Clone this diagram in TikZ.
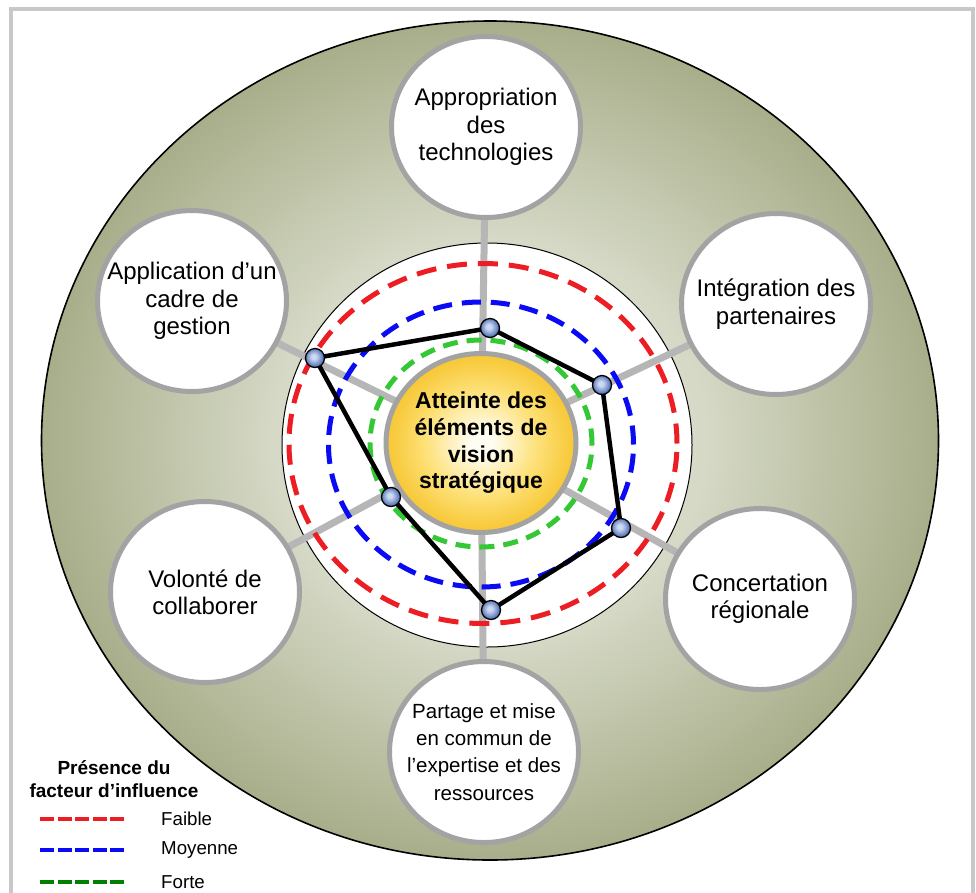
\documentclass[tikz,border=0pt]{standalone}
\usepackage{fontspec}
\setmainfont{Liberation Sans}
\usetikzlibrary{shapes.geometric}

\pgfdeclarelayer{back}
\pgfdeclarelayer{spokes}
\pgfsetlayers{back,spokes,main}

\definecolor{frameGray}{RGB}{200,200,200}
\definecolor{ringGray}{RGB}{163,163,163}
\definecolor{spokeGray}{RGB}{182,182,182}
\definecolor{oliveIn}{RGB}{226,229,214}
\definecolor{oliveMid}{RGB}{213,217,198}
\definecolor{oliveOut}{RGB}{168,174,138}
\definecolor{goldIn}{RGB}{255,253,242}
\definecolor{goldMid}{RGB}{253,224,118}
\definecolor{goldOut}{RGB}{247,198,50}
\definecolor{lowRed}{RGB}{236,30,36}
\definecolor{midBlue}{RGB}{10,10,245}
\definecolor{highGreen}{RGB}{52,200,52}
\definecolor{legGreen}{RGB}{0,128,0}
\definecolor{ballLight}{RGB}{205,218,242}
\definecolor{ballDark}{RGB}{78,110,180}

\pgfdeclareradialshading{olivedisc}{\pgfpoint{0bp}{0bp}}{%
  color(0bp)=(oliveIn); color(12bp)=(oliveMid); color(25bp)=(oliveOut); color(50bp)=(oliveOut)}
\pgfdeclareradialshading{golddisc}{\pgfpoint{0bp}{0bp}}{%
  color(0bp)=(goldIn); color(3bp)=(goldIn); color(15bp)=(goldMid); color(25bp)=(goldOut); color(50bp)=(goldOut)}
\pgfdeclareradialshading{bluebead}{\pgfpoint{-4bp}{4bp}}{%
  color(0bp)=(ballLight); color(6bp)=(ballLight); color(25bp)=(ballDark); color(50bp)=(ballDark)}

\tikzset{
  hub/.style={ellipse, minimum width=190pt, minimum height=179pt, inner sep=0pt,
    draw=ringGray, line width=5pt, shade, shading=golddisc, align=center,
    font=\bfseries\fontsize{23}{26.7}\selectfont},
  factortext/.style={align=center, inner sep=0pt, font=\fontsize{24}{27.3}\selectfont},
  factor/.style={ellipse, minimum width=189pt, minimum height=181pt, inner sep=0pt,
    draw=ringGray, line width=5pt, fill=white,
    label={[factortext]center:{#1}}},
  smallfactor/.style={ellipse, minimum width=189pt, minimum height=181pt, inner sep=0pt,
    draw=ringGray, line width=5pt, fill=white,
    label={[factortext, font=\fontsize{20.5}{27.3}\selectfont]center:{#1}}},
  spoke/.style={draw=spokeGray, line width=7pt},
  level/.style={line width=5pt},
  lowlevel/.style={level, draw=lowRed, dash pattern=on 20pt off 11pt},
  midlevel/.style={level, draw=midBlue, dash pattern=on 19pt off 10pt},
  highlevel/.style={level, draw=highGreen, dash pattern=on 15pt off 9pt},
  profile/.style={draw=black, line width=4.5pt, line join=round},
  marker/.style={circle, minimum size=19pt, inner sep=0pt, draw=black, line width=1.3pt,
    shade, shading=bluebead},
  legline/.style={line width=4pt, dash pattern=on 14pt off 3.5pt},
  legtitle/.style={align=center, font=\bfseries\fontsize{19}{23}\selectfont, inner sep=0pt},
  leglabel/.style={anchor=west, font=\fontsize{18.7}{22}\selectfont, inner sep=0pt}
}

\begin{document}
\begin{tikzpicture}[x=1pt, y=-1pt]
  \useasboundingbox (0,0) rectangle (976,892);
  \clip (0,0) rectangle (976,892);

  % page frame, outer disc and inner white ring
  \begin{pgfonlayer}{back}
    \draw[draw=frameGray, line width=4pt, fill=white] (11,9) rectangle (973,920);
    \path[shade, shading=olivedisc, draw=black, line width=1.6pt]
      (490,440.5) ellipse[x radius=448.5pt, y radius=419.5pt];
    \draw[fill=white, line width=1pt] (487,445) ellipse[x radius=205pt, y radius=202pt];
  \end{pgfonlayer}

  % central goal and the six influence factors
  \node[hub] (hub) at (481,443) {Atteinte des\\éléments de\\vision\\stratégique};
  \node[factor={Appropriation\\des\\technologies}] (tech) at (486,127) {};
  \node[factor={Intégration des\\partenaires}] (part) at (776,304) {};
  \node[factor={Concertation\\régionale}] (conc) at (760,599) {};
  \node[smallfactor={Partage et mise\\en commun de\\l’expertise et des\\ressources}] (expe) at (484,752) {};
  \node[factor={Volonté de\\collaborer}] (coll) at (205,592) {};
  \node[factor={Application d’un\\cadre de\\gestion}] (gest) at (192,301) {};

  % spokes from the goal to every factor
  \begin{pgfonlayer}{spokes}
    \foreach \f in {tech,part,conc,expe,coll,gest}
      \draw[spoke] (hub.center) -- (\f.center);
  \end{pgfonlayer}

  % reference levels: weak, medium, strong
  \draw[lowlevel]  (483,443.5) ellipse[x radius=194pt, y radius=180pt];
  \draw[midlevel]  (481,444.5) ellipse[x radius=152.5pt, y radius=142.5pt];
  \draw[highlevel] (481,443.5) ellipse[x radius=111pt, y radius=103.5pt];

  % measured profile
  \coordinate (v1) at (490,328);
  \coordinate (v2) at (602,385);
  \coordinate (v3) at (621,528);
  \coordinate (v4) at (491,610);
  \coordinate (v5) at (391,497);
  \coordinate (v6) at (315,358);
  \draw[profile] (v1) -- (v2) -- (v3) -- (v4) -- (v5) -- (v6) -- cycle;
  \foreach \v in {1,...,6}
    \node[marker] (m\v) at (v\v) {};

  % legend
  \node[legtitle] (legt) at (114,779) {Présence du\\facteur d’influence};
  \coordinate (la) at (40,819);  \coordinate (lb) at (124,819);
  \coordinate (lc) at (40,850);  \coordinate (ld) at (124,850);
  \coordinate (le) at (40,882);  \coordinate (lf) at (124,882);
  \draw[legline, draw=lowRed] (la) -- (lb);
  \draw[legline, draw=midBlue] (lc) -- (ld);
  \draw[legline, draw=legGreen] (le) -- (lf);
  \node[leglabel] (low) at (161,819) {Faible};
  \node[leglabel] (mid) at (161,850) {Moyenne};
  \node[leglabel] (high) at (161,882) {Forte};
\end{tikzpicture}
\end{document}
